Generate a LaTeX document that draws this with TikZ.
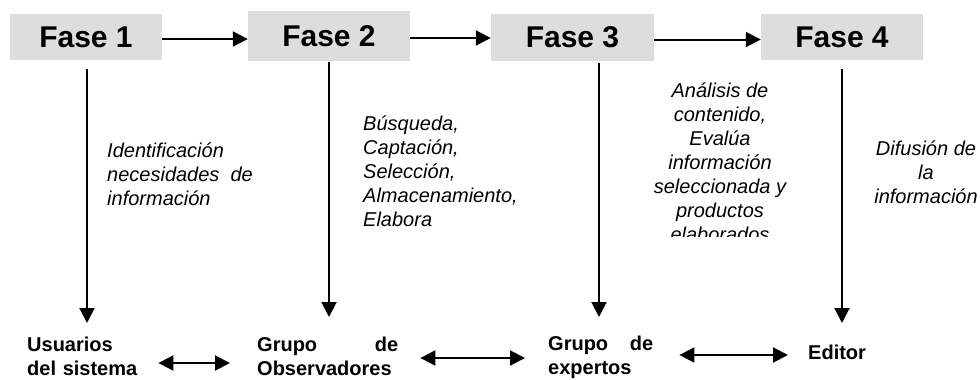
\documentclass[tikz,border=0pt]{standalone}
\usepackage{fontspec}
\setmainfont{Liberation Sans}
\usetikzlibrary{arrows.meta}
\definecolor{faseGray}{RGB}{221,221,221}
\tikzset{
  fase/.style={fill=faseGray, minimum height=47pt, font=\fontsize{30}{36}\selectfont\bfseries},
  tarea/.style={font=\fontsize{20}{24}\selectfont\itshape, inner sep=0pt},
  actor/.style={font=\fontsize{20}{24}\selectfont\bfseries, inner sep=0pt, anchor=west, align=left},
  flecha/.style={line width=2pt, -{Triangle[length=15pt,width=15pt]}},
  doble/.style={line width=2pt, {Triangle[length=15pt,width=15pt]}-{Triangle[length=15pt,width=15pt]}}
}

\begin{document}
\begin{tikzpicture}[x=1pt, y=-1pt]
  \useasboundingbox (0,0) rectangle (980,380);

  \node [fase, minimum width=152pt, minimum height=46pt] (f1) at ( 86.0, 37.0) {Fase 1};
  \node [fase, minimum width=162pt, minimum height=50pt] (f2) at (329.0, 36.0) {Fase 2};
  \node [fase, minimum width=163pt]                      (f3) at (572.5, 37.5) {Fase 3};
  \node [fase, minimum width=162pt, minimum height=46pt] (f4) at (842.0, 37.0) {Fase 4};

  \draw [flecha] ([yshift=-2pt]f1.east) -- ([yshift=-2pt]f1.east -| f2.west);
  \draw [flecha] ([yshift=-2pt]f2.east) -- ([yshift=-2pt]f2.east -| f3.west);
  \draw [flecha] ([yshift=-2pt]f3.east) -- ([yshift=-2pt]f3.east -| f4.west);

  \coordinate (d1) at ( 87, 323);
  \coordinate (d2) at (329, 317);
  \coordinate (d3) at (599, 317);
  \coordinate (d4) at (842, 323);

  \draw [flecha, shorten <=9pt] (f1.south -| d1) -- (d1);
  \draw [flecha, shorten <=1pt] (f2.south -| d2) -- (d2);
  \draw [flecha, shorten <=2pt] (f3.south -| d3) -- (d3);
  \draw [flecha, shorten <=9pt] (f4.south -| d4) -- (d4);

  \node [tarea, anchor=west, align=left] (t1) at (107, 174) {Identificación\\necesidades~~de\\información};
  \node [tarea, anchor=west, align=left] (t2) at (363, 171) {Búsqueda,\\Captación,\\Selección,\\Almacenamiento,\\Elabora};
  \begin{scope}
    \clip (640, 60) rectangle (800, 236);
    \node [tarea, align=center] (t3) at (720, 162) {Análisis de\\contenido,\\Evalúa\\información\\seleccionada y\\productos\\elaborados};
  \end{scope}
  \node [tarea, align=center] (t4) at (926, 172) {Difusión de\\la\\información};

  \node [actor, text width=115pt] (u)  at ( 27, 356) {Usuarios\\del sistema};
  \node [actor, text width=141pt] (o)  at (257, 356) {Grupo\hspace{\stretch{1}}de\\Observadores};
  \node [actor, text width=105pt] (e)  at (548, 357) {Grupo\hspace{\stretch{1}}de\\expertos};
  \node [actor]                   (ed) at (808, 352) {Editor};

  \draw [doble, shorten <=16pt, shorten >=27pt] ([yshift=-7pt]u.east) -- ([yshift=-7pt]u.east -| o.west);
  \draw [doble, shorten <=22pt, shorten >=23pt] ([yshift=-2pt]o.east) -- ([yshift=-2pt]o.east -| e.west);
  \draw [doble, shorten <=26pt, shorten >=20pt] ([yshift=2pt]e.east) -- ([yshift=2pt]e.east -| ed.west);
\end{tikzpicture}
\end{document}
